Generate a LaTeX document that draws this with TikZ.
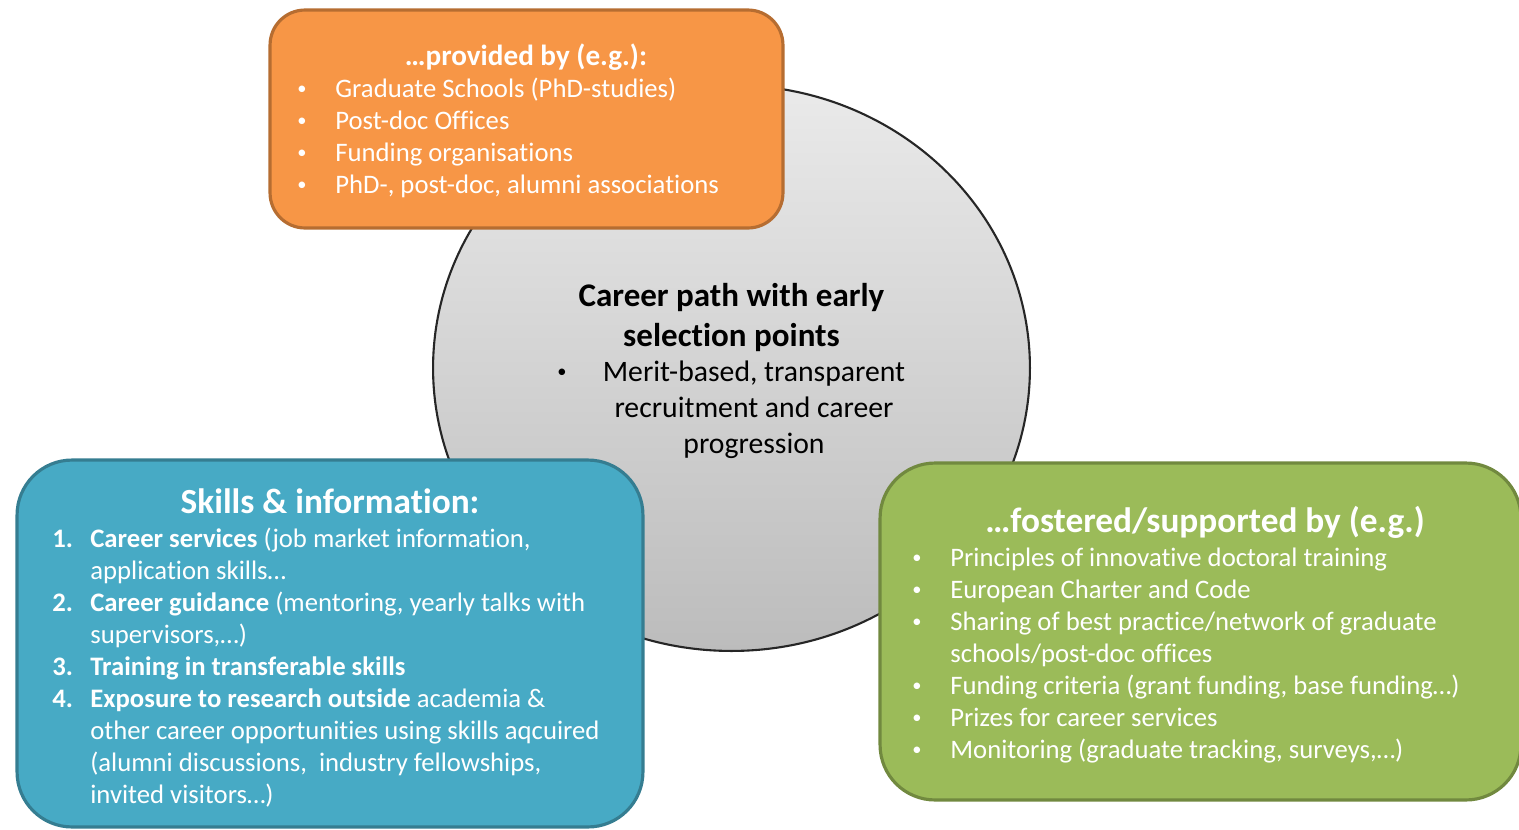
\documentclass[tikz,border=0pt]{standalone}
\usepackage{fontspec}
\setmainfont{Carlito}[Ligatures=NoCommon]
\usetikzlibrary{shapes.geometric}
\definecolor{orfill}{HTML}{F79646}
\definecolor{orline}{HTML}{B66D31}
\definecolor{blfill}{HTML}{47AAC5}
\definecolor{blline}{HTML}{357D91}
\definecolor{grfill}{HTML}{9BBB59}
\definecolor{grline}{HTML}{71893F}
\definecolor{ctop}{HTML}{EAEAEA}
\definecolor{cbot}{HTML}{BCBCBC}
\newcommand\bodysize{\fontsize{15.2}{18}\selectfont}
\newcommand\hubbody{\fontsize{16.9}{20}\selectfont}
\newcommand\hubtitle{\fontsize{18.8}{22}\selectfont\bfseries}
\newcommand\panelhead{\fontsize{20.1}{24}\selectfont\bfseries}
\newcommand\smallhead{\fontsize{16.6}{20}\selectfont\bfseries}
\newcommand\dotsize{\fontsize{10.5}{12}\selectfont}
\begin{document}
\begin{tikzpicture}[x=0.02cm,y=-0.02cm,
  panel/.style={draw, line width=1.8pt, rounded corners=#1, inner sep=0pt},
  txt/.style={text=white, inner sep=0pt, font=\bodysize, anchor=base west},
  dot/.style={text=white, inner sep=0pt, font=\dotsize, anchor=center},
  num/.style={text=white, inner sep=0pt, font=\bodysize\bfseries, anchor=base west},
  head/.style={text=white, inner sep=0pt, anchor=base}
]
\useasboundingbox (0,0) rectangle (1519,829);

% central disc
\node[ellipse, draw=black!85, line width=1.2pt, top color=ctop, bottom color=cbot,
      minimum width=11.94cm, minimum height=11.32cm, inner sep=0pt] (hub) at (731.5,368) {};
\node[inner sep=0pt, anchor=base, font=\hubtitle] (hubt1) at (731.5,306) {Career path with early};
\node[inner sep=0pt, anchor=base, font=\hubtitle] (hubt2) at (731.5,346) {selection points};
\node[inner sep=0pt, anchor=center, font=\dotsize] (hubd) at (562,373) {•};
\node[inner sep=0pt, anchor=base, font=\hubbody] (hub1) at (754,381) {Merit-based, transparent};
\node[inner sep=0pt, anchor=base, font=\hubbody] (hub2) at (754,417) {recruitment and career};
\node[inner sep=0pt, anchor=base, font=\hubbody] (hub3) at (754,453) {progression};

% providers (top)
\node[panel=0.7cm, fill=orfill, draw=orline, minimum width=10.26cm, minimum height=4.36cm] (prov) at (526.5,119) {};
\node[head, font=\smallhead] (provh) at (526,65) {…provided by (e.g.):};
\foreach \t [count=\i] in {Graduate Schools (PhD-studies), Post-doc Offices, Funding organisations, {PhD-, post-doc, alumni associations}} {
  \node[dot] (provd\i) at (302,{90+32*(\i-1)}) {•};
  \node[txt] (prov\i) at (335,{97+32*(\i-1)}) {\t};
}

% skills (bottom left)
\node[panel=1.1cm, fill=blfill, draw=blline, minimum width=12.52cm, minimum height=7.34cm] (skill) at (330,643.5) {};
\node[head, font=\panelhead] (skillh) at (330,513) {Skills \& information:};
\node[num] (sn1) at (52,547) {1.};
\node[txt] (s1a) at (90,547) {\textbf{Career services} (job market information,};
\node[txt] (s1b) at (90,579) {application skills…};
\node[num] (sn2) at (52,611) {2.};
\node[txt] (s2a) at (90,611) {\textbf{Career guidance} (mentoring, yearly talks with};
\node[txt] (s2b) at (90,643) {supervisors,…)};
\node[num] (sn3) at (52,675) {3.};
\node[txt] (s3a) at (90,675) {\textbf{Training in transferable skills}};
\node[num] (sn4) at (52,707) {4.};
\node[txt] (s4a) at (90,707) {\textbf{Exposure to research outside} academia \&};
\node[txt] (s4b) at (90,739) {other career opportunities using skills aqcuired};
\node[txt] (s4c) at (90,771) {(alumni discussions,\ \ industry fellowships,};
\node[txt] (s4d) at (90,803) {invited visitors…)};

% support (bottom right)
\node[panel=1.1cm, fill=grfill, draw=grline, minimum width=12.82cm, minimum height=6.74cm] (supp) at (1200.5,631.5) {};
\node[head, font=\panelhead] (supph) at (1205,532) {…fostered/supported by (e.g.)};
\node[dot] (gd1) at (917,559) {•};
\node[txt] (g1) at (950,566) {Principles of innovative doctoral training};
\node[dot] (gd2) at (917,591) {•};
\node[txt] (g2) at (950,598) {European Charter and Code};
\node[dot] (gd3) at (917,623) {•};
\node[txt] (g3) at (950,630) {Sharing of best practice/network of graduate};
\node[txt] (g3b) at (950,662) {schools/post-doc offices};
\node[dot] (gd4) at (917,687) {•};
\node[txt] (g4) at (950,694) {Funding criteria (grant funding, base funding…)};
\node[dot] (gd5) at (917,719) {•};
\node[txt] (g5) at (950,726) {Prizes for career services};
\node[dot] (gd6) at (917,751) {•};
\node[txt] (g6) at (950,758) {Monitoring (graduate tracking, surveys,…)};
\end{tikzpicture}
\end{document}
